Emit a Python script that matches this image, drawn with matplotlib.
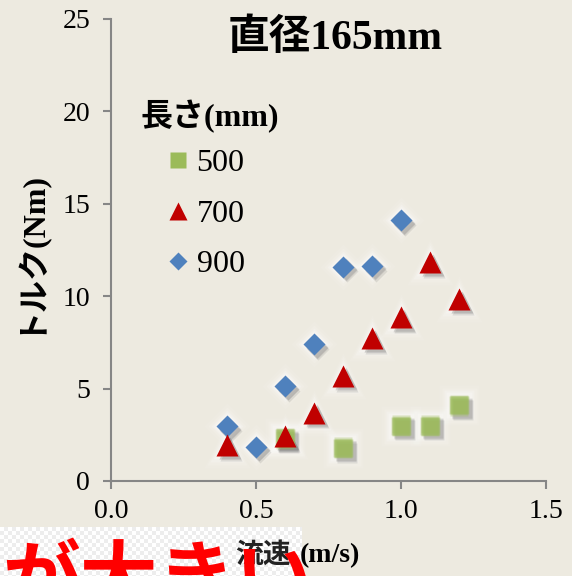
import numpy as np
import matplotlib
matplotlib.use("Agg")
from matplotlib import pyplot as plt
from matplotlib.lines import Line2D
from matplotlib.transforms import offset_copy

plt.rcParams['font.family'] = ['Liberation Serif', 'Noto Sans CJK JP']

BG = '#EDEAE0'
AXIS = '#868686'

# torque vs flow speed, by length (mm)
x500 = [0.6, 0.8, 1.0, 1.1, 1.2]
y500 = [2.3, 1.8, 3.0, 3.0, 4.1]
x700 = [0.4, 0.6, 0.7, 0.8, 0.9, 1.0, 1.1, 1.2]
y700 = [1.95, 2.45, 3.7, 5.7, 7.75, 8.85, 11.85, 9.85]
x900 = [0.4, 0.5, 0.6, 0.7, 0.8, 0.9, 1.0]
y900 = [2.95, 1.85, 5.15, 7.4, 11.6, 11.65, 14.1]

labels = ['500', '700', '900']
colors = ['#9BBB59', '#C00000', '#4F81BD']
markers = ['s', '^', 'D']
msizes = [14, 16, 11]

fig = plt.figure(figsize=(5.72, 5.76), dpi=100, facecolor=BG)
ax = fig.add_axes([111/572, 95/576, 435/572, 462/576])
ax.set_facecolor(BG)


def draw_series(xs, ys, color, marker, ms, blur=False):
    # soft white glow
    for k, a in [(2.1, 0.08), (1.8, 0.12), (1.5, 0.2), (1.3, 0.25)]:
        ax.plot(xs, ys, ls='none', marker=marker, ms=ms * k, mfc='white',
                mec='none', alpha=a, zorder=2)
    # dark drop shadow to lower right
    for dx, dy, a in [(2.5, -2.5, 0.12), (3, -3.5, 0.12), (2, -2, 0.12)]:
        tr = offset_copy(ax.transData, fig=fig, x=dx, y=dy, units='points')
        ax.plot(xs, ys, ls='none', marker=marker, ms=ms, mfc='#404040',
                mec='none', alpha=a, transform=tr, zorder=3)
    if blur:
        for dx, dy in [(-1, 0), (1, 0), (0, -1), (0, 1), (0, 0)]:
            tr = offset_copy(ax.transData, fig=fig, x=dx, y=dy, units='points')
            ax.plot(xs, ys, ls='none', marker=marker, ms=ms - 1, mfc=color,
                    mec='none', alpha=0.35, transform=tr, zorder=4)
    else:
        ax.plot(xs, ys, ls='none', marker=marker, ms=ms, mfc=color,
                mec='none', zorder=4)


draw_series(x500, y500, colors[0], markers[0], msizes[0], blur=True)
draw_series(x900, y900, colors[2], markers[2], msizes[2])
draw_series(x700, y700, colors[1], markers[1], msizes[1])

ax.set_xlim(0, 1.5)
ax.set_ylim(0, 25)
ax.set_xticks([0, 0.5, 1.0, 1.5])
ax.set_xticklabels(['0.0', '0.5', '1.0', '1.5'])
ax.set_yticks([0, 5, 10, 15, 20, 25])
for side in ['top', 'right']:
    ax.spines[side].set_visible(False)
for side in ['left', 'bottom']:
    ax.spines[side].set_color(AXIS)
    ax.spines[side].set_linewidth(1.5)
ax.tick_params(colors=AXIS, labelcolor='black', labelsize=20, length=6,
               width=1.5, direction='out')
ax.tick_params(axis='x', pad=7)
ax.tick_params(axis='y', pad=9)

ax.set_ylabel('トルク(Nm)', fontsize=23, fontweight='bold', labelpad=14)

# legend
handles = [Line2D([], [], ls='none', marker=m, ms=s * 0.85, mfc=c, mec='none')
           for m, c, s in zip(markers, colors, msizes)]
fig.text(140/572, 1 - 117/576, '長さ(mm)', fontsize=23, fontweight='bold',
         ha='left', va='center')
leg = ax.legend(handles, labels, loc='upper left', frameon=False,
                bbox_to_anchor=(164/572, 1 - 149/576), bbox_transform=fig.transFigure,
                fontsize=23, handlelength=0.9, handletextpad=0.12,
                labelspacing=0.66, borderpad=0, borderaxespad=0)

fig.text(335/572, 1 - 38/576, '直径165mm', fontsize=30, fontweight='bold',
         ha='center', va='center')

# pasted caption strip at the bottom
cell = 4
h, w = 49, 302
yy, xx = np.mgrid[0:h, 0:w]
chk = ((yy // cell + xx // cell) % 2).astype(float)
img = np.ones((h, w, 3))
img[chk == 1] = 0.93
fig.figimage(img, xo=0, yo=0, zorder=1)

fig.text(235/572, 1 - 556/576, '流速', fontsize=20, fontweight='bold',
         ha='left', va='center', color='#222222', zorder=3)
fig.text(300/572, 1 - 556/576, '(m/s)', fontsize=20, fontweight='bold',
         ha='left', va='center', zorder=3)
fig.text(2/572, 1 - 548/576, 'が大きい', fontsize=56, fontweight='bold',
         ha='left', va='top', color='#FF0000', zorder=3)

fig.savefig('out.png', dpi=100, facecolor=BG)
